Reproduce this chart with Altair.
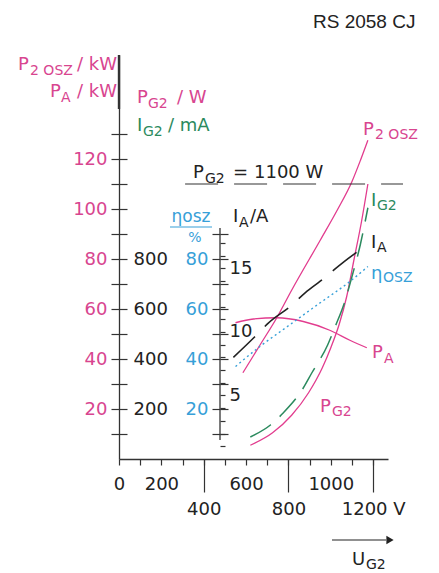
import altair as alt
import pandas as pd

# ---------------- data ----------------
U_P2 = [585, 665, 745, 815, 950, 1030, 1100, 1140, 1175]
P2_OSZ_KW = [34.5, 45.5, 56.5, 67.5, 87.5, 99.5, 111, 119.5, 127.5]

U_PA = [550, 635, 745, 870, 995, 1090, 1170]
PA_KW = [54.5, 56, 56.5, 55, 51.5, 47.5, 44.5]

U_PG2 = [620, 725, 815, 895, 960, 1000, 1040, 1075, 1110, 1145, 1175]
PG2_W = [55, 105, 175, 265, 365, 445, 540, 650, 800, 950, 1100]

U_IG2 = [620, 715, 775, 870, 910, 985, 1020, 1070, 1100, 1140, 1175]
IG2_MA = [88, 136, 184, 284, 344, 456, 528, 640, 730, 860, 1005]

U_IA = [540, 640, 705, 815, 880, 950, 1060, 1175]
IA_A = [8.0, 9.6, 10.7, 12.1, 13.1, 14.0, 15.5, 16.9]

U_ETA = [550, 665, 795, 950, 1090, 1175]
ETA_PCT = [37, 45, 53, 62.5, 71, 77]

PG2_LIMIT_W = 1100
PG2_LIMIT_SPAN_V = [312, 1341]

X_MINOR = list(range(0, 1300, 100))
X_MAJOR = [400, 800, 1200]
KW_TICKS = list(range(10, 140, 10))
W_TICKS = list(range(100, 1400, 100))
ETA_TICKS = list(range(10, 100, 10))
IA_TICKS = list(range(1, 18))
ETA_AXIS_SPAN = [7.6, 92.4]
KW_THICK_SPAN = [140, 161.6]

# ---------------- layout / style ----------------
LEFT, TOP, W, H = 119, 55, 269, 404
ETA_X = 101  # inner axis position inside the plot (px)
FONT = "DejaVu Sans"
PINK = "#e23c8e"
PINK_T = "#d8458f"
GREEN = "#2b8a5e"
BLUE = "#37a0d8"
BLACK = "#222222"
AXIS = "#333333"

xs = alt.Scale(domain=[0, 1270], nice=False)
kw_s = alt.Scale(domain=[0, 161.6], nice=False)
w_s = alt.Scale(domain=[0, 1616], nice=False)
a_s = alt.Scale(domain=[0, 31.8], nice=False)


def ax(**kw):
    base = dict(grid=False, title=None, labelFont=FONT, labelFontSize=18,
                tickColor=AXIS, tickWidth=1.2, labelFlush=False,
                labelOverlap=False, domain=False, format="d")
    base.update(kw)
    return alt.Axis(**base)


def curve(u, v):
    return pd.DataFrame({"U": u, "v": v})


p2 = alt.Chart(curve(U_P2, P2_OSZ_KW)).mark_line(
    color=PINK, strokeWidth=1.3, interpolate="monotone").encode(
    x=alt.X("U:Q", scale=xs, axis=ax(
        orient="bottom", values=X_MINOR, tickSize=6, domain=True,
        domainColor=AXIS, domainWidth=1.3, labelColor=BLACK, labelPadding=10,
        labelExpr="indexof([0, 200, 600, 1000], datum.value) >= 0 ? datum.label : ''")),
    y=alt.Y("v:Q", scale=kw_s, axis=ax(
        orient="left", values=KW_TICKS, tickSize=8, domain=True,
        domainColor=AXIS, domainWidth=1.3, labelColor=PINK_T, labelPadding=4,
        labelExpr="datum.value % 20 == 0 && datum.value <= 120 ? datum.label : ''")),
)

pa = alt.Chart(curve(U_PA, PA_KW)).mark_line(
    color=PINK, strokeWidth=1.3, interpolate="monotone").encode(
    x=alt.X("U:Q", scale=xs, axis=ax(
        orient="bottom", values=X_MAJOR, tickSize=33, labelColor=BLACK,
        labelPadding=8,
        labelExpr="datum.value == 1200 ? '1200 V' : datum.label")),
    y=alt.Y("v:Q", scale=kw_s, axis=None),
)

pg2 = alt.Chart(curve(U_PG2, PG2_W)).mark_line(
    color=PINK, strokeWidth=1.3, interpolate="monotone").encode(
    x=alt.X("U:Q", scale=xs, axis=None),
    y=alt.Y("v:Q", scale=w_s, axis=ax(
        orient="right", offset=-W, values=W_TICKS, tickSize=8,
        labelColor=BLACK, labelPadding=6,
        labelExpr="datum.value % 200 == 0 && datum.value <= 800 ? datum.label : ''")),
)

ig2 = alt.Chart(curve(U_IG2, IG2_MA)).mark_line(
    color=GREEN, strokeWidth=1.5, strokeDash=[24, 12], interpolate="monotone").encode(
    x=alt.X("U:Q", scale=xs, axis=None),
    y=alt.Y("v:Q", scale=w_s, axis=None),
)

ia = alt.Chart(curve(U_IA, IA_A)).mark_line(
    color=BLACK, strokeWidth=1.6, strokeDash=[30, 14], interpolate="monotone").encode(
    x=alt.X("U:Q", scale=xs, axis=None),
    y=alt.Y("v:Q", scale=a_s, axis=ax(
        orient="right", offset=ETA_X - W, values=IA_TICKS, tickSize=5,
        labelColor=BLACK, labelPadding=4,
        labelExpr="datum.value % 5 == 0 ? datum.label : ''")),
)

eta = alt.Chart(curve(U_ETA, ETA_PCT)).mark_line(
    color=BLUE, strokeWidth=1.4, strokeDash=[2, 3], interpolate="monotone").encode(
    x=alt.X("U:Q", scale=xs, axis=None),
    y=alt.Y("v:Q", scale=kw_s, axis=ax(
        orient="left", offset=-ETA_X, values=ETA_TICKS, tickSize=8,
        labelColor=BLUE, labelPadding=4,
        labelExpr="datum.value % 20 == 0 && datum.value <= 80 ? datum.label : ''")),
)

eta_line = alt.Chart(pd.DataFrame({"lo": [ETA_AXIS_SPAN[0]], "hi": [ETA_AXIS_SPAN[1]]})).mark_rule(
    color=AXIS, strokeWidth=1.3).encode(
    x=alt.value(ETA_X),
    y=alt.Y("lo:Q", scale=kw_s, axis=ax(
        orient="right", offset=ETA_X - W, values=ETA_TICKS, tickSize=8, labels=False)),
    y2="hi:Q",
)

kw_thick = alt.Chart(pd.DataFrame({"lo": [KW_THICK_SPAN[0]], "hi": [KW_THICK_SPAN[1]]})).mark_rule(
    color=AXIS, strokeWidth=2.4).encode(
    x=alt.value(0),
    y=alt.Y("lo:Q", scale=kw_s, axis=None),
    y2="hi:Q",
)

limit = alt.Chart(pd.DataFrame({"a": [PG2_LIMIT_SPAN_V[0]], "b": [PG2_LIMIT_SPAN_V[1]],
                                "w": [PG2_LIMIT_W]})).mark_rule(
    color=AXIS, strokeWidth=1.2, strokeDash=[33, 16]).encode(
    x=alt.X("a:Q", scale=xs, axis=None),
    x2="b:Q",
    y=alt.Y("w:Q", scale=w_s, axis=None),
)

# ---------------- annotations (page pixel positions) ----------------
LABELS = [
    # text, x, y(baseline), size, color, align
    ("P", 18, 70, 18, PINK_T, "left"), ("2 OSZ", 30, 75, 14, PINK_T, "left"),
    ("/ kW", 117, 70, 18, PINK_T, "right"),
    ("P", 50, 97, 18, PINK_T, "left"), ("A", 61, 102, 14, PINK_T, "left"),
    ("/ kW", 117, 97, 18, PINK_T, "right"),
    ("P", 137, 103, 18, PINK_T, "left"), ("G2", 148, 108, 14, PINK_T, "left"),
    ("/ W", 177, 103, 18, PINK_T, "left"),
    ("I", 137, 131, 18, GREEN, "left"), ("G2", 143, 136, 14, GREEN, "left"),
    ("/ mA", 168, 131, 18, GREEN, "left"),
    ("P", 193, 178, 18, BLACK, "left"), ("G2", 205, 183, 14, BLACK, "left"),
    ("=", 233, 178, 18, BLACK, "left"), ("1100 W", 254, 178, 18, BLACK, "left"),
    ("ηosz", 191, 222, 17, BLUE, "center"), ("%", 195, 242, 14, BLUE, "center"),
    ("I", 233, 222, 18, BLACK, "left"), ("A", 239, 227, 14, BLACK, "left"),
    ("/A", 250, 222, 18, BLACK, "left"),
    ("P", 363, 135, 18, PINK_T, "left"), ("2 OSZ", 375, 139, 14, PINK_T, "left"),
    ("I", 371, 206, 18, GREEN, "left"), ("G2", 377, 210, 14, GREEN, "left"),
    ("I", 371, 248, 18, BLACK, "left"), ("A", 377, 252, 14, BLACK, "left"),
    ("η", 371, 279, 18, BLUE, "left"), ("OSZ", 383, 282, 14, BLUE, "left"),
    ("P", 372, 358, 18, PINK_T, "left"), ("A", 384, 363, 14, PINK_T, "left"),
    ("P", 320, 412, 18, PINK_T, "left"), ("G2", 332, 416, 14, PINK_T, "left"),
    ("U", 352, 565, 18, BLACK, "left"), ("G2", 366, 569, 14, BLACK, "left"),
]
TITLE_TAG = ("RS 2058 CJ", 313, 28, 19, BLACK)

lab = pd.DataFrame(LABELS, columns=["t", "X", "Y", "s", "c", "al"])
lab["px"] = lab["X"] - LEFT
lab["py"] = lab["Y"] - TOP

text_layers = []
for al in ["left", "right", "center"]:
    sub = lab[lab["al"] == al]
    text_layers.append(
        alt.Chart(sub).mark_text(align=al, baseline="alphabetic", font=FONT).encode(
            x=alt.X("px:Q", scale=None, axis=None),
            y=alt.Y("py:Q", scale=None, axis=None),
            text="t:N",
            size=alt.Size("s:Q", scale=None, legend=None),
            color=alt.Color("c:N", scale=None, legend=None),
        )
    )

tag = alt.Chart(pd.DataFrame({"t": [TITLE_TAG[0]], "px": [TITLE_TAG[1] - LEFT],
                              "py": [TITLE_TAG[2] - TOP]})).mark_text(
    align="left", baseline="alphabetic", font="Liberation Sans Narrow, Liberation Sans",
    fontSize=TITLE_TAG[3], color=TITLE_TAG[4]).encode(
    x=alt.X("px:Q", scale=None, axis=None),
    y=alt.Y("py:Q", scale=None, axis=None),
    text="t:N",
)

# decorative strokes: underline of eta label, arrow shaft
STROKES = pd.DataFrame({
    "x1": [170, 332], "x2": [212, 386], "y": [227, 540], "c": [BLUE, BLACK],
})
STROKES["x1"] -= LEFT
STROKES["x2"] -= LEFT
STROKES["y"] -= TOP
strokes = alt.Chart(STROKES).mark_rule(strokeWidth=1.2).encode(
    x=alt.X("x1:Q", scale=None, axis=None),
    x2="x2:Q",
    y=alt.Y("y:Q", scale=None, axis=None),
    color=alt.Color("c:N", scale=None, legend=None),
)
arrow_head = alt.Chart(pd.DataFrame({"px": [390 - LEFT], "py": [540 - TOP]})).mark_point(
    shape="triangle-right", filled=True, size=70, color=BLACK, opacity=1).encode(
    x=alt.X("px:Q", scale=None, axis=None),
    y=alt.Y("py:Q", scale=None, axis=None),
)

chart = alt.layer(
    p2, pa, pg2, ig2, ia, eta, eta_line, kw_thick, limit,
    *text_layers, tag, strokes, arrow_head,
).resolve_scale(y="independent").resolve_axis(
    x="independent", y="independent"
).properties(
    width=W, height=H,
    padding={"left": LEFT, "top": TOP, "right": 439 - LEFT - W, "bottom": 573 - TOP - H},
    autosize=alt.AutoSizeParams(type="none"),
    background="white",
).configure_view(stroke=None)

chart.save("out.html", embed_options={"renderer": "svg", "actions": False})
